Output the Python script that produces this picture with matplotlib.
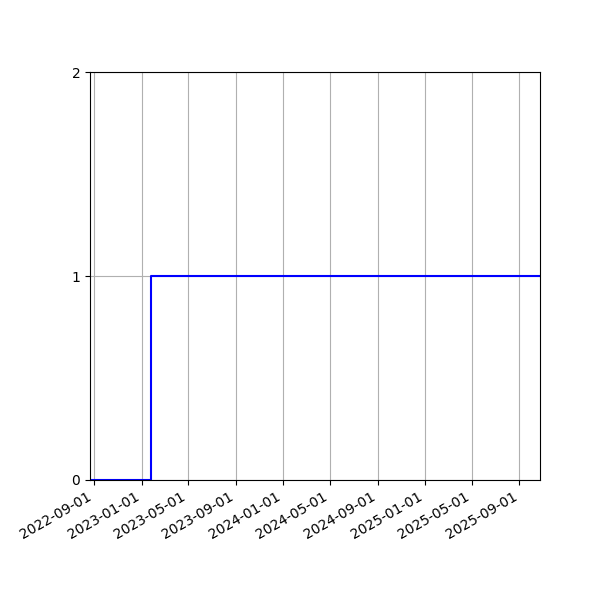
import matplotlib
matplotlib.use('Agg')

import numpy as np
import matplotlib.pyplot as plt
import matplotlib.dates as mdates

# Step series: state value over time
dates = np.array(['2022-08-21', '2023-01-24', '2025-10-24'], dtype='datetime64[D]')
values = [0, 1, 1]
y_ticks = [0, 1, 2]

fig, ax = plt.subplots(figsize=(6, 6), dpi=100)

# Draw the step line
ax.step(dates, values, where='post', color='blue', linewidth=1.5)

# Axis limits and ticks
ax.set_xlim(dates[0], dates[-1])
ax.set_ylim(0, 2)
ax.set_yticks(y_ticks)
ax.xaxis.set_major_locator(mdates.MonthLocator(bymonth=[1, 5, 9]))
ax.xaxis.set_major_formatter(mdates.DateFormatter('%Y-%m-%d'))
ax.grid(True, color='#b0b0b0')

fig.autofmt_xdate()
fig.subplots_adjust(left=0.15, right=0.9, top=0.88, bottom=0.2)

fig.savefig('out.png')
